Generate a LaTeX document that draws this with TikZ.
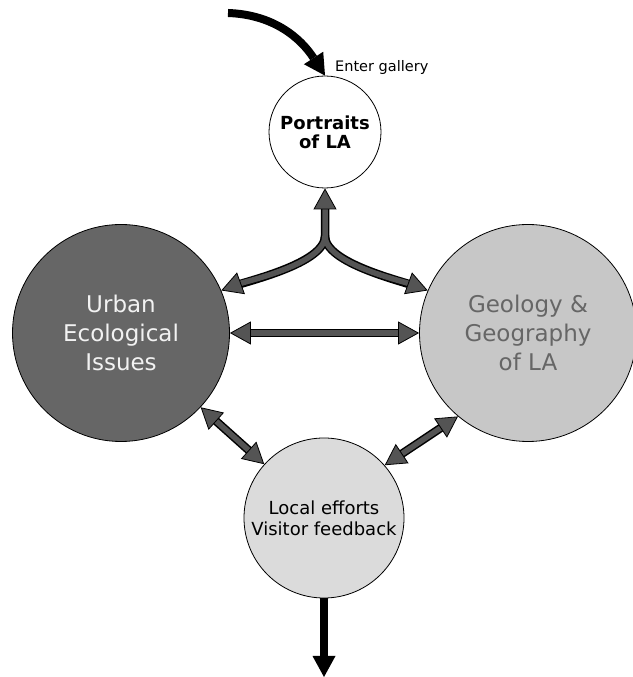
\documentclass[tikz,border=0pt]{standalone}
\usepackage{fontspec}
\setmainfont{DejaVu Sans}
\usetikzlibrary{arrows.meta}

\begin{document}
\begin{tikzpicture}[x=1pt,y=1pt]
    % -----------------------------
    % Parameters (tweak as needed)
    % -----------------------------
    \def\rBig{108.5}    % radius of the two theme circles
    \def\rTop{56}       % radius of the entrance circle
    \def\rLow{80}       % radius of the exit circle
    \def\shaft{5.5pt}   % width of the grey shafts
    \def\tipLen{21pt}   % arrow head length
    \def\tipWid{23pt}   % arrow head width

    \definecolor{urbanfill}{gray}{0.40}
    \definecolor{urbantext}{gray}{0.95}
    \definecolor{geofill}{gray}{0.78}
    \definecolor{geotext}{gray}{0.40}
    \definecolor{localfill}{gray}{0.86}
    \definecolor{arrowgray}{gray}{0.33}

    % -----------------------------
    % Styles
    % -----------------------------
    \tikzset{
      bubble/.style={circle, draw=black, line width=0.8pt, inner sep=0pt, align=center},
      halo/.style={draw=black, line width=8.5pt, shorten <=10pt, shorten >=10pt},
      twoway/.style={draw=arrowgray, line width=\shaft,
        >={Triangle[length=\tipLen, width=\tipWid, line width=0.8pt, color=black, fill=arrowgray]}},
      oneway/.style={draw=black, line width=8pt,
        -{Triangle[length=\tipLen, width=\tipWid, line width=0pt]}}
    }

    \useasboundingbox (0,0) rectangle (632,677);

    % -----------------------------
    % Gallery rooms
    % -----------------------------
    \node[bubble, fill=white, minimum size={2*\rTop*1pt},
          font=\bfseries\fontsize{18pt}{19pt}\selectfont] (portraits) at (325,545) {Portraits\\of LA};
    \node[bubble, fill=urbanfill, text=urbantext, minimum size={2*\rBig*1pt},
          font=\fontsize{23pt}{29pt}\selectfont] (urban) at (121,344) {Urban\\Ecological\\Issues};
    \node[bubble, fill=geofill, text=geotext, minimum size={2*\rBig*1pt},
          font=\fontsize{23pt}{29pt}\selectfont] (geology) at (528,344) {Geology \&\\Geography\\of LA};
    \node[bubble, fill=localfill, minimum size={2*\rLow*1pt},
          font=\fontsize{18pt}{21pt}\selectfont] (local) at (324,159) {Local efforts\\Visitor feedback};

    \node[anchor=base west, inner sep=0pt, font=\fontsize{14.5pt}{16pt}\selectfont] (enter) at (335,605) {Enter gallery};

    % Free ends of the paths
    \coordinate (start) at (228,664);
    \coordinate (fork) at (325,441);
    \coordinate (exit) at (324,0);

    % -----------------------------
    % Black outline under the grey arrows
    % -----------------------------
    \draw[halo] (portraits.south) -- (fork) to[out=-90, in=20, looseness=0.6] (urban.23);
    \draw[halo, shorten <=0pt] (fork) to[out=-90, in=160, looseness=0.6] (geology.157);
    \draw[halo] (urban.east) -- (geology.west);
    \draw[halo] (urban.-43) -- (local.138);
    \draw[halo] (geology.-130) -- (local.41);

    % Grey two-way arrows on top
    \draw[twoway, <->] (portraits.south) -- (fork) to[out=-90, in=20, looseness=0.6] (urban.23);
    \draw[twoway, ->] (fork) to[out=-90, in=160, looseness=0.6] (geology.157);
    \draw[twoway, <->] (urban.east) -- (geology.west);
    \draw[twoway, <->] (urban.-43) -- (local.138);
    \draw[twoway, <->] (geology.-130) -- (local.41);

    % -----------------------------
    % Way in and way out
    % -----------------------------
    \draw[oneway] (start) to[out=-2, in=123] (portraits.north);
    \draw[oneway] (local.south) -- (exit);

\end{tikzpicture}
\end{document}
